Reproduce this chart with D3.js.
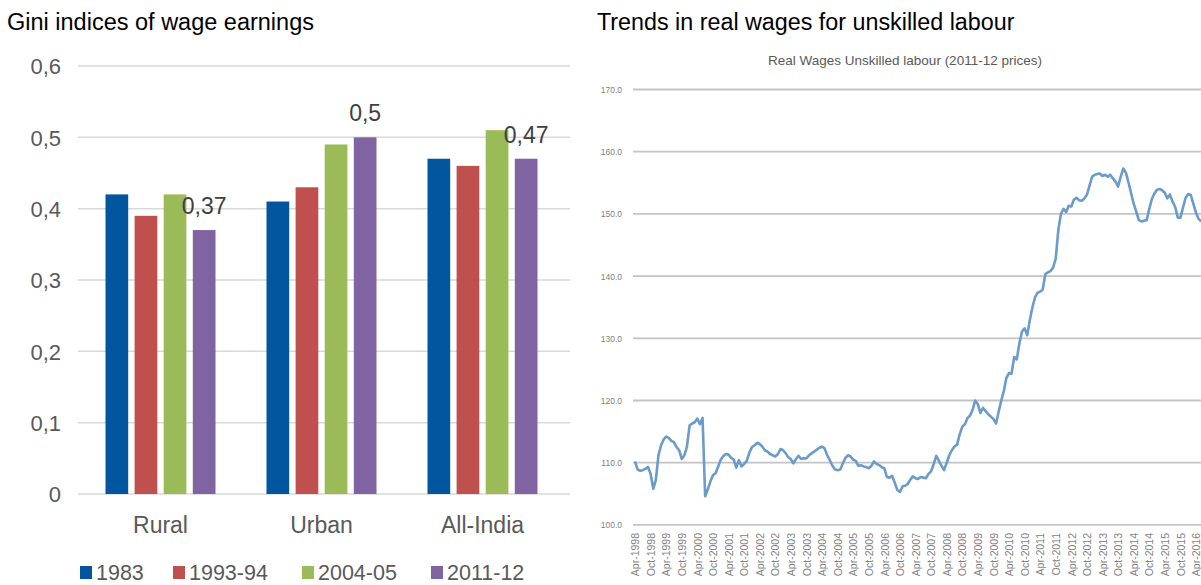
<!DOCTYPE html>
<html>
<head>
<meta charset="utf-8">
<script src="https://cdn.jsdelivr.net/npm/d3@7"></script>
<style>
  body { margin: 0; background: #fff; }
  svg { display: block; }
  text { font-family: "Liberation Sans", Arial, sans-serif; }
  .narrow { font-family: "Liberation Sans Narrow", "Arial Narrow", "Liberation Sans", sans-serif; }
</style>
</head>
<body>
<svg width="1201" height="585"></svg>
<script>
// left chart: gini indices
var regions = ["Rural", "Urban", "All-India"];
var periods = ["1983", "1993-94", "2004-05", "2011-12"];
var gini1983 = [0.42, 0.41, 0.47];
var gini1993 = [0.39, 0.43, 0.46];
var gini2004 = [0.42, 0.49, 0.51];
var gini2011 = [0.37, 0.50, 0.47];
var giniTicks = [0, 0.1, 0.2, 0.3, 0.4, 0.5, 0.6];
var barColors = ["#02559f", "#c0504d", "#9bbb59", "#8064a2"];

// right chart: real wages, monthly from Apr-1998
var wageStart = new Date(1998, 3, 1);
var wages = [
  110.2, 108.9, 108.7, 108.8, 109.0, 109.3, 108.2, 105.8, 107.2, 111.2,
  112.8, 113.7, 114.2, 114.0, 113.5, 113.3, 112.5, 112.0, 110.6, 111.2,
  112.6, 116.0, 116.3, 116.5, 117.1, 116.2, 117.2, 104.6, 105.7, 107.0,
  108.0, 108.3, 109.4, 110.5, 111.1, 111.4, 111.3, 110.8, 110.5, 109.2,
  110.4, 109.4, 109.8, 110.3, 111.6, 112.5, 112.8, 113.2, 113.0, 112.6,
  112.0, 111.8, 111.4, 111.2, 111.0, 111.4, 112.2, 112.0, 111.5, 110.9,
  110.6, 109.9, 110.6, 111.1, 110.6, 110.7, 110.7, 111.2, 111.5, 111.8,
  112.1, 112.4, 112.6, 112.3, 111.2, 110.4, 109.5, 108.9, 108.8, 108.9,
  109.9, 110.8, 111.2, 111.0, 110.5, 110.3, 109.5, 109.6, 109.4, 109.3,
  109.1, 109.5, 110.2, 109.8, 109.6, 109.3, 109.1, 107.7, 107.6, 107.9,
  106.8, 105.6, 105.3, 106.2, 106.3, 106.6, 107.3, 107.8, 107.5, 107.4,
  107.7, 107.6, 107.5, 108.2, 108.6, 109.8, 111.1, 110.3, 109.5, 108.8,
  110.0, 111.2, 112.0, 112.6, 112.9, 114.6, 115.8, 116.2, 117.2, 117.6,
  118.6, 120.0, 119.4, 118.0, 118.8, 118.3, 117.8, 117.4, 117.0, 116.3,
  118.2, 120.0, 121.6, 123.6, 124.4, 124.3, 127.0, 126.6, 129.2, 131.1,
  131.6, 130.5, 132.9, 135.0, 136.6, 137.3, 137.5, 137.8, 140.3, 140.6,
  140.8, 141.4, 142.8, 147.5, 150.0, 150.8, 150.3, 151.3, 151.2, 152.3,
  152.6, 152.2, 152.1, 152.5, 153.1, 154.6, 156.0, 156.3, 156.4, 156.5,
  156.1, 156.3, 156.0, 156.3, 155.7, 155.2, 154.4, 156.0, 157.3, 156.6,
  155.0, 153.4, 151.7, 150.4, 149.0, 148.8, 148.9, 149.0, 150.8, 152.4,
  153.3, 153.9, 154.0, 153.8, 153.4, 152.5, 153.1, 152.0, 151.1, 149.4,
  149.4, 151.0, 152.6, 153.2, 153.0, 151.6, 150.2, 149.2, 148.8
];
var wageTicks = [100, 110, 120, 130, 140, 150, 160, 170];
var monthLabels = [
  "Apr-1998", "Oct-1998", "Apr-1999", "Oct-1999", "Apr-2000", "Oct-2000",
  "Apr-2001", "Oct-2001", "Apr-2002", "Oct-2002", "Apr-2003", "Oct-2003",
  "Apr-2004", "Oct-2004", "Apr-2005", "Oct-2005", "Apr-2006", "Oct-2006",
  "Apr-2007", "Oct-2007", "Apr-2008", "Oct-2008", "Apr-2009", "Oct-2009",
  "Apr-2010", "Oct-2010", "Apr-2011", "Oct-2011", "Apr-2012", "Oct-2012",
  "Apr-2013", "Oct-2013", "Apr-2014", "Oct-2014", "Apr-2015", "Oct-2015",
  "Apr-2016"
];

var svg = d3.select("svg");

// panel titles
svg.append("text").attr("x", 7).attr("y", 30)
  .style("font-size", "23.5px").attr("fill", "#000")
  .text("Gini indices of wage earnings");
svg.append("text").attr("x", 597).attr("y", 30)
  .style("font-size", "23.3px").attr("fill", "#000")
  .text("Trends in real wages for unskilled labour");

// ---------- bar chart ----------
var series = [gini1983, gini1993, gini2004, gini2011];

var y = d3.scaleLinear().domain([0, 0.6]).range([494, 66]);
var x0 = d3.scaleBand().domain(regions).range([80, 563]);
var x1 = d3.scaleBand().domain(periods).range([-55, 55]).paddingInner(0.22);

var left = svg.append("g");

left.selectAll(".grid").data(giniTicks).enter().append("line")
  .attr("x1", 78).attr("x2", 570)
  .attr("y1", function(d) { return y(d); })
  .attr("y2", function(d) { return y(d); })
  .attr("stroke", "#d9d9d9").attr("stroke-width", 1.5);

var yAxis = d3.axisLeft(y).tickValues(giniTicks).tickSize(0).tickPadding(0)
  .tickFormat(function(d) { return d === 0 ? "0" : d3.format(".1f")(d).replace(".", ","); });
left.append("g").attr("transform", "translate(61,0)").call(yAxis)
  .call(function(g) { g.select(".domain").remove(); })
  .selectAll("text")
    .style("font-size", "22px").attr("fill", "#595959")
    .attr("dy", "0.35em");

var groups = left.selectAll(".grp").data(regions).enter().append("g")
  .attr("transform", function(d) { return "translate(" + (x0(d) + x0.bandwidth() / 2) + ",0)"; });

groups.selectAll("rect")
  .data(function(d, i) {
    return periods.map(function(p, k) { return { period: p, value: series[k][i], k: k }; });
  })
  .enter().append("rect")
    .attr("x", function(d) { return x1(d.period); })
    .attr("width", x1.bandwidth())
    .attr("y", function(d) { return y(d.value); })
    .attr("height", function(d) { return y(0) - y(d.value); })
    .attr("fill", function(d) { return barColors[d.k]; });

// data labels only on the 2011-12 bars
groups.append("text")
  .attr("x", x1("2011-12") + x1.bandwidth() / 2)
  .attr("y", function(d, i) { return y(gini2011[i]) - 16; })
  .attr("text-anchor", "middle")
  .style("font-size", "23px").attr("fill", "#404040")
  .text(function(d, i) { return String(gini2011[i]).replace(".", ","); });

var xAxis = d3.axisBottom(x0).tickSize(0).tickPadding(0);
left.append("g").attr("transform", "translate(0,533)").call(xAxis)
  .call(function(g) { g.select(".domain").remove(); })
  .selectAll("text")
    .style("font-size", "23px").attr("fill", "#595959")
    .attr("dy", "0");

// legend
var legendX = [80, 173, 302, 431];
var legend = left.selectAll(".leg").data(periods).enter().append("g")
  .attr("transform", function(d, i) { return "translate(" + legendX[i] + ",565)"; });
legend.append("rect").attr("y", 1).attr("width", 12).attr("height", 13)
  .attr("fill", function(d, i) { return barColors[i]; });
legend.append("text").attr("x", 16).attr("y", 15)
  .style("font-size", "21.5px").attr("fill", "#595959")
  .text(function(d) { return d; });

// ---------- line chart ----------
var right = svg.append("g");
var yw = d3.scaleLinear().domain([100, 170]).range([524.9, 89.5]);
var xw = d3.scaleTime()
  .domain([wageStart, d3.timeMonth.offset(wageStart, 216)])
  .range([635, 1196]);

right.append("text").attr("class", "narrow")
  .attr("x", 905).attr("y", 65).attr("text-anchor", "middle")
  .style("font-size", "13.5px").attr("fill", "#595959")
  .text("Real Wages Unskilled labour (2011-12 prices)");

right.selectAll(".wgrid").data(wageTicks).enter().append("line")
  .attr("x1", 633).attr("x2", 1201)
  .attr("y1", function(d) { return yw(d); })
  .attr("y2", function(d) { return yw(d); })
  .attr("stroke", "#c4c4c4").attr("stroke-width", 1.8);

var ywAxis = d3.axisLeft(yw).tickValues(wageTicks).tickSize(0).tickPadding(0)
  .tickFormat(d3.format(".1f"));
right.append("g").attr("transform", "translate(622,0)").call(ywAxis)
  .call(function(g) { g.select(".domain").remove(); })
  .selectAll("text")
    .attr("class", "narrow")
    .style("font-size", "8.5px").attr("fill", "#7f7f7f")
    .attr("dy", "0.35em");

var tickDates = monthLabels.map(function(s, i) { return d3.timeMonth.offset(wageStart, i * 6); });
var xwAxis = d3.axisBottom(xw).tickValues(tickDates).tickSize(0).tickPadding(0)
  .tickFormat(function(d, i) { return monthLabels[i]; });
right.append("g").attr("transform", "translate(0,533)").call(xwAxis)
  .call(function(g) { g.select(".domain").remove(); })
  .selectAll("text")
    .style("font-size", "10.5px").attr("fill", "#7f7f7f")
    .attr("text-anchor", "end")
    .attr("dx", "0").attr("dy", "0.35em")
    .attr("transform", "rotate(-90)");

var wageLine = d3.line()
  .x(function(d, i) { return xw(d3.timeMonth.offset(wageStart, i)); })
  .y(function(d) { return yw(d); });

right.append("path").datum(wages)
  .attr("d", wageLine)
  .attr("fill", "none")
  .attr("stroke", "#6b9bcb")
  .attr("stroke-width", 2.6)
  .attr("stroke-linejoin", "round");
</script>
</body>
</html>
